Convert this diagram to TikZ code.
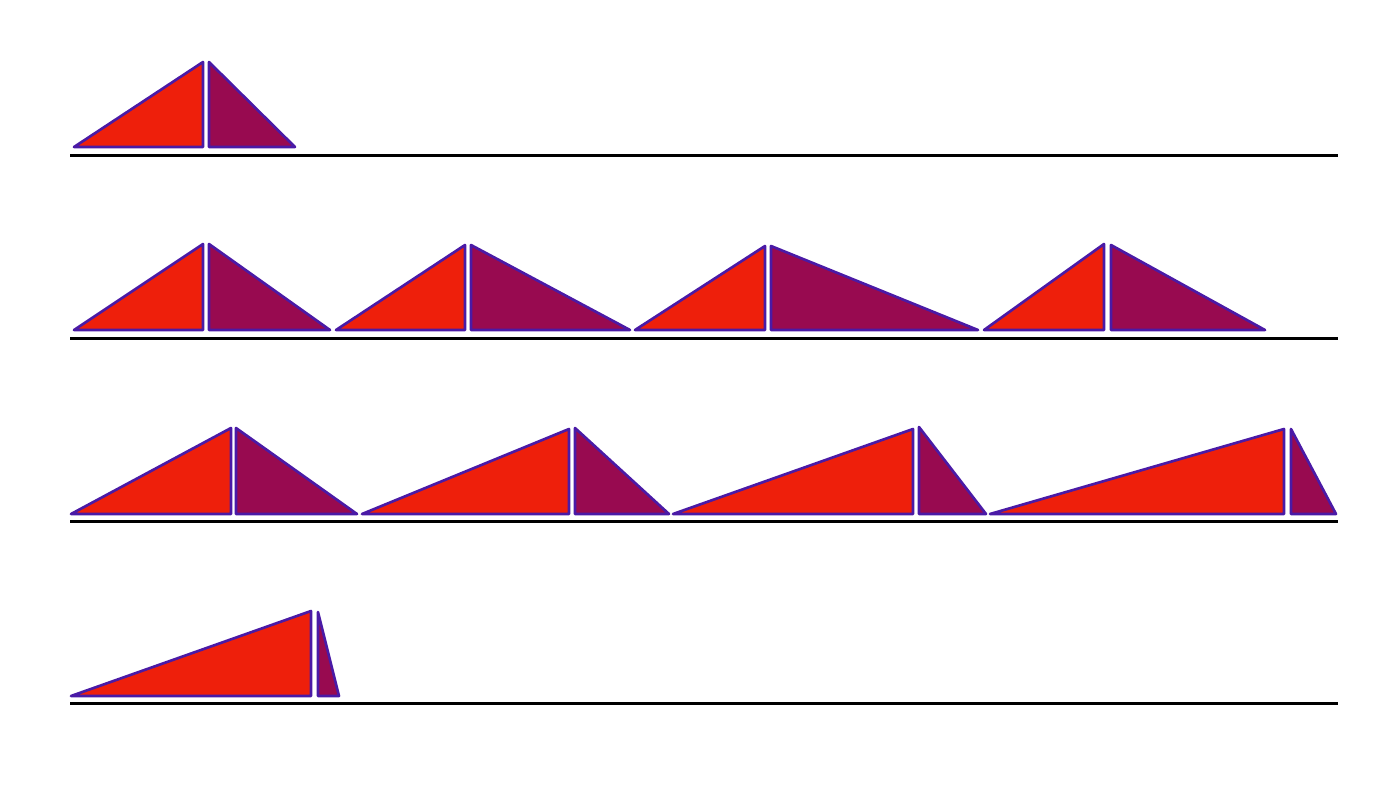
\documentclass[tikz,border=0pt]{standalone}
\usepackage{tikz}
\definecolor{tired}{HTML}{EE1F0B}
\definecolor{timag}{HTML}{980A50}
\definecolor{tiedge}{HTML}{4A1AA6}
\begin{document}
\begin{tikzpicture}[x=0.02cm, y=-0.02cm, line join=round,
    redtri/.style={fill=tired, draw=tiedge, line width=1.5pt},
    magtri/.style={fill=timag, draw=tiedge, line width=1.5pt},
    ground/.style={draw=black, line width=1.7pt}]
\useasboundingbox (0,0) rectangle (1400,789);
\foreach \y in {155, 338, 521, 703}
    \draw [ground] (70,\y) -- (1338,\y);
\foreach \a/\b/\c/\d/\t/\s/\y in {74/203/209/295/62/62/147,
        74/203/209/330/244/244/330, 336/465/471/630/245/245/330,
        635/765/771/978/246/246/330, 984/1104/1111/1265/244/245/330,
        71/231/236/357/428/428/514, 362/569/575/669/429/428/514,
        673/913/919/986/429/427/514, 990/1284/1291/1336/429/429/514,
        71/311/318/339/611/612/696} {
    \filldraw [redtri] (\a,\y) -- (\b,\y) -- (\b,\t) -- cycle;
    \filldraw [magtri] (\c,\s) -- (\c,\y) -- (\d,\y) -- cycle;
}
\end{tikzpicture}
\end{document}
